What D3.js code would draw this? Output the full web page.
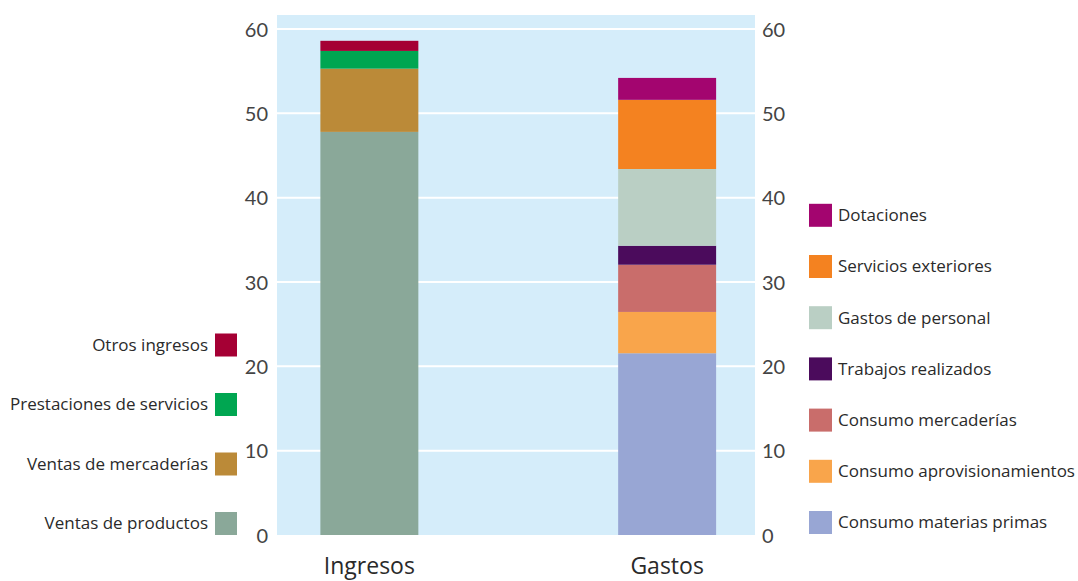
<!DOCTYPE html>
<html><head><meta charset="utf-8">
<script src="https://cdn.jsdelivr.net/npm/d3@7"></script>
<style>body{margin:0;background:#fff}svg{display:block;font-family:"Open Sans",Lato,sans-serif}</style>
</head><body>
<svg id="c" width="1078" height="581"></svg>
<script>
const categories = ["Ingresos", "Gastos"];
const ingresosSeries = ["Ventas de productos", "Ventas de mercaderías", "Prestaciones de servicios", "Otros ingresos"];
const ingresosValues = [47.8, 7.5, 2.1, 1.2];
const ingresosColors = ["#8aa899", "#bb8a38", "#00a651", "#a50034"];
const gastosSeries = ["Consumo materias primas", "Consumo aprovisionamientos", "Consumo mercaderías", "Trabajos realizados", "Gastos de personal", "Servicios exteriores", "Dotaciones"];
const gastosValues = [21.55, 4.9, 5.6, 2.25, 9.1, 8.2, 2.6];
const gastosColors = ["#98a6d4", "#f9a54b", "#c96d6b", "#4b0b5c", "#bacfc4", "#f48220", "#a3056f"];
const yTicks = [0, 10, 20, 30, 40, 50, 60];

const svg = d3.select("#c");
const plot = {left: 277, right: 755, top: 15, bottom: 535};
const y = d3.scaleLinear().domain([0, 60]).range([535, 29]);
const x = d3.scaleBand().domain(categories).range([277.5, 759]).paddingInner(0.671).paddingOuter(0.144);

svg.append("rect").attr("x", plot.left).attr("y", plot.top)
  .attr("width", plot.right - plot.left).attr("height", plot.bottom - plot.top).attr("fill", "#d5edfa");

svg.append("g").selectAll("line").data(yTicks.filter(d => d > 0)).join("line")
  .attr("x1", plot.left).attr("x2", plot.right)
  .attr("y1", d => y(d)).attr("y2", d => y(d))
  .attr("stroke", "#fff").attr("stroke-width", 2);

function stackBar(cat, values, colors) {
  let acc = 0;
  const segs = values.map((v, i) => { const s = {y0: acc, y1: acc + v, c: colors[i]}; acc += v; return s; });
  svg.append("g").selectAll("rect").data(segs).join("rect")
    .attr("x", x(cat)).attr("width", x.bandwidth())
    .attr("y", d => y(d.y1)).attr("height", d => y(d.y0) - y(d.y1))
    .attr("fill", d => d.c);
}
stackBar("Ingresos", ingresosValues, ingresosColors);
stackBar("Gastos", gastosValues, gastosColors);

const axL = svg.append("g").attr("transform", `translate(${plot.left},0)`)
  .call(d3.axisLeft(y).tickValues(yTicks).tickSize(0).tickPadding(9));
const axR = svg.append("g").attr("transform", `translate(${plot.right},0)`)
  .call(d3.axisRight(y).tickValues(yTicks).tickSize(0).tickPadding(7));
[axL, axR].forEach(a => {
  a.select(".domain").remove();
  a.selectAll("text").attr("font-size", 20).attr("fill", "#444").attr("font-family", "Lato, sans-serif").attr("dy", "0.36em");
});

const axB = svg.append("g").attr("transform", `translate(0,${plot.bottom})`)
  .call(d3.axisBottom(x).tickSize(0).tickPadding(0));
axB.select(".domain").remove();
axB.selectAll("text").attr("font-size", 23).attr("fill", "#2a2a2a").attr("font-family", "'Open Sans', sans-serif").attr("dy", 0).attr("y", 38.5);

// Left legend (Ingresos)
const legL = svg.append("g").selectAll("g").data(ingresosSeries.map((s, i) => ({s, c: ingresosColors[i], i}))).join("g")
  .attr("transform", d => `translate(215,${512 - d.i * 59.5})`);
legL.append("rect").attr("width", 22).attr("height", 23).attr("fill", d => d.c);
legL.append("text").attr("x", -7).attr("y", 11.5).attr("dy", "0.35em").attr("text-anchor", "end")
  .attr("font-size", 17).attr("fill", "#2a2a2a").text(d => d.s);

// Right legend (Gastos)
const legR = svg.append("g").selectAll("g").data(gastosSeries.map((s, i) => ({s, c: gastosColors[i], i}))).join("g")
  .attr("transform", d => `translate(809,${511 - d.i * 51.2})`);
legR.append("rect").attr("width", 23).attr("height", 23).attr("fill", d => d.c);
legR.append("text").attr("x", 29).attr("y", 11.5).attr("dy", "0.35em")
  .attr("font-size", 17).attr("fill", "#2a2a2a").text(d => d.s);
</script>
</body></html>
